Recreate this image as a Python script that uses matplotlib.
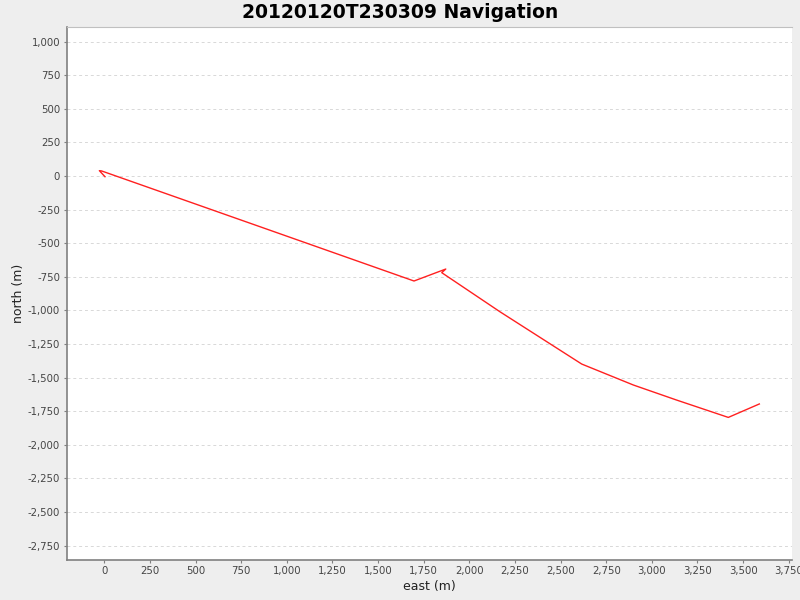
"""
Navigation track plot (east vs north)
"""

import matplotlib
matplotlib.use('Agg')
import matplotlib.pyplot as plt
from matplotlib.ticker import MultipleLocator, FuncFormatter

matplotlib.rcParams['font.family'] = ['DejaVu Sans']

TITLE = '20120120T230309 Navigation'

# track waypoints (metres)
EAST = [4, -27, -15, 853, 1697, 1871, 1849, 2168, 2616, 2899, 3136, 3419, 3589]
NORTH = [-5, 40, 38, -377, -781, -692, -719, -1010, -1399, -1555, -1667, -1796, -1696]

XLIM = (-207, 3768)
YLIM = (-2857, 1109)


def thousands(v, pos):
    return f'{int(v):,}'


def plot_navigation():
    fig = plt.figure(figsize=(8, 6), dpi=100, facecolor='#eeeeee')
    ax = fig.add_axes([66.5 / 800, 40 / 600, (792 - 66.5) / 800, (560 - 27) / 600])
    ax.set_facecolor('white')

    ax.plot(EAST, NORTH, color='#ff2020', linewidth=1.0)

    ax.set_xlim(*XLIM)
    ax.set_ylim(*YLIM)
    ax.xaxis.set_major_locator(MultipleLocator(250))
    ax.yaxis.set_major_locator(MultipleLocator(250))
    ax.xaxis.set_major_formatter(FuncFormatter(thousands))
    ax.yaxis.set_major_formatter(FuncFormatter(thousands))

    # only horizontal dashed grid
    ax.grid(True, axis='y', color='#d8d8d8', linestyle=(0, (3, 3)), linewidth=0.7)
    ax.set_axisbelow(True)

    for side in ['left', 'bottom']:
        ax.spines[side].set_color('#808080')
        ax.spines[side].set_linewidth(1.2)
    ax.spines['right'].set_visible(False)
    ax.spines['top'].set_color('#c0c0c0')
    ax.spines['top'].set_linewidth(0.8)

    ax.tick_params(axis='both', labelsize=7.3, colors='#808080', labelcolor='#444444',
                   length=2.5, width=0.8, pad=2)

    ax.set_xlabel('east (m)', fontsize=9, color='#222222', labelpad=3)
    ax.set_ylabel('north (m)', fontsize=9, color='#222222', labelpad=2)

    fig.text(0.5, 1 - 12 / 600, TITLE, fontsize=13.5, fontweight='bold',
             ha='center', va='center')

    plt.savefig('out.png', dpi=100, facecolor=fig.get_facecolor())


if __name__ == '__main__':
    plot_navigation()
